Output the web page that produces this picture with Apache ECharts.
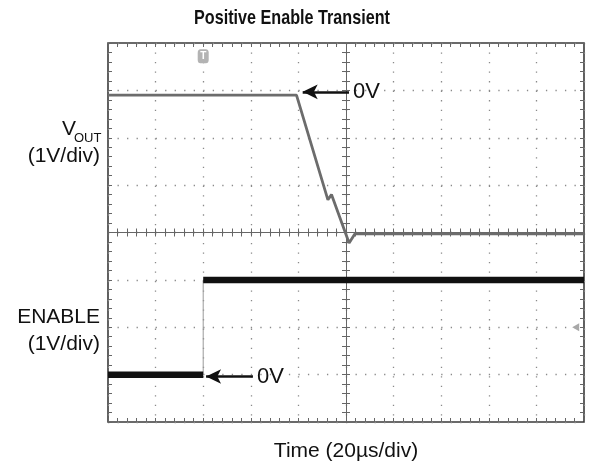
<!DOCTYPE html>
<html>
<head>
<meta charset="utf-8">
<script src="https://cdn.jsdelivr.net/npm/echarts@6/dist/echarts.min.js"></script>
<style>html,body{margin:0;padding:0;background:#fff;}#c{width:596px;height:470px;}</style>
</head>
<body>
<div id="c"></div>
<script>
// Time in microseconds (20 µs/div), amplitude in divisions (1 V/div)
const voutTime = [-100, -20.8, -7.6, -6.1, 1.3, 3.7, 100];
const voutDiv = [2.9, 2.9, 0.69, 0.80, -0.22, -0.03, -0.03];
const enableLowTime = [-100, -60];
const enableLowDiv = [-3, -3];
const enableHighTime = [-60, 100];
const enableHighDiv = [-1, -1];
const enableStepTime = [-60, -60];
const enableStepDiv = [-3, -1];
const titleText = 'Positive Enable Transient';
const xLabel = 'Time (20µs/div)';
const arrowLabel = '0V';

const zip = (a, b) => a.map((v, i) => [v, b[i]]);
const FONT = 'Liberation Sans, Arial, sans-serif';

const chart = echarts.init(document.getElementById('c'));

const dotted = { color: '#8a8a8a', width: 1.3, type: [1.3, 8.22] };
function xAx(opts) {
  return Object.assign({
    type: 'value', min: -100, max: 100, interval: 20,
    axisLabel: { show: false },
    splitLine: { show: false },
    axisLine: { show: false, onZero: false },
    axisTick: { show: true, inside: true, length: 4, lineStyle: { color: '#666', width: 1 } },
    minorTick: { show: true, splitNumber: 5, length: 4, lineStyle: { color: '#666', width: 1 } }
  }, opts);
}
function yAx(opts) {
  return Object.assign({
    type: 'value', min: -4, max: 4, interval: 1,
    axisLabel: { show: false },
    splitLine: { show: false },
    axisLine: { show: false, onZero: false },
    axisTick: { show: true, inside: true, length: 4, lineStyle: { color: '#666', width: 1 } },
    minorTick: { show: true, splitNumber: 5, length: 4, lineStyle: { color: '#666', width: 1 } }
  }, opts);
}

const option = {
  animation: false,
  backgroundColor: '#fff',
  grid: { left: 108, top: 43, right: 12, bottom: 48, show: true, borderColor: '#3a3a3a', borderWidth: 1.6, backgroundColor: 'transparent', containLabel: false },
  xAxis: [
    xAx({ position: 'bottom', splitLine: { show: true, lineStyle: dotted } }),
    xAx({ position: 'top' }),
    xAx({ position: 'bottom', axisLine: { show: true, onZero: true, onZeroAxisIndex: 0, lineStyle: { color: '#666', width: 1 } }, axisTick: { show: true, inside: true, length: 4, lineStyle: { color: '#666' } } }),
    xAx({ position: 'bottom', axisLine: { show: false, onZero: true, onZeroAxisIndex: 0 }, axisTick: { show: true, inside: false, length: 4, lineStyle: { color: '#666' } } })
  ],
  yAxis: [
    yAx({ position: 'left', splitLine: { show: true, lineStyle: dotted } }),
    yAx({ position: 'right' }),
    yAx({ position: 'left', axisLine: { show: true, onZero: true, onZeroAxisIndex: 0, lineStyle: { color: '#666', width: 1 } }, axisTick: { show: true, inside: true, length: 4, lineStyle: { color: '#666' } } }),
    yAx({ position: 'left', axisLine: { show: false, onZero: true, onZeroAxisIndex: 0 }, axisTick: { show: true, inside: false, length: 4, lineStyle: { color: '#666' } } })
  ],
  series: [
    {
      name: 'ENABLE step', type: 'line', xAxisIndex: 0, yAxisIndex: 0,
      data: zip(enableStepTime, enableStepDiv), showSymbol: false, silent: true,
      lineStyle: { color: '#9a9a9a', width: 1 }
    },
    {
      name: 'ENABLE low', type: 'line', xAxisIndex: 0, yAxisIndex: 0,
      data: zip(enableLowTime, enableLowDiv), showSymbol: false, silent: true,
      lineStyle: { color: '#111', width: 6.5 },
      markLine: {
        silent: true, symbol: ['arrow', 'none'], symbolSize: [11, 15],
        lineStyle: { color: '#111', width: 2.6, type: 'solid' },
        label: { show: true, position: 'end', formatter: arrowLabel, color: '#111', fontSize: 22, fontFamily: FONT, distance: 4 },
        data: [[{ coord: [-58.8, -3.04] }, { coord: [-39.1, -3.04] }]]
      }
    },
    {
      name: 'ENABLE high', type: 'line', xAxisIndex: 0, yAxisIndex: 0,
      data: zip(enableHighTime, enableHighDiv), showSymbol: false, silent: true,
      lineStyle: { color: '#111', width: 6.5 },
      markPoint: {
        silent: true,
        data: [{ coord: [96.5, -2], symbol: 'triangle', symbolRotate: 90, symbolSize: [8, 7], itemStyle: { color: '#a8a8a8' }, label: { show: false } }]
      }
    },
    {
      name: 'VOUT', type: 'line', xAxisIndex: 0, yAxisIndex: 0,
      data: zip(voutTime, voutDiv), showSymbol: false, silent: true,
      lineStyle: { color: '#6c6c6c', width: 2.8 },
      markLine: {
        silent: true, symbol: ['arrow', 'none'], symbolSize: [11, 15],
        lineStyle: { color: '#111', width: 2.6, type: 'solid' },
        label: { show: true, position: 'end', formatter: arrowLabel, color: '#111', fontSize: 22, fontFamily: FONT, distance: 4 },
        data: [[{ coord: [-18.2, 2.97] }, { coord: [1.26, 2.97] }]]
      },
      markPoint: {
        silent: true,
        data: [{ coord: [-60, 3.72], symbol: 'roundRect', symbolSize: [11, 14], itemStyle: { color: '#b3b3b3' },
          label: { show: true, formatter: 'T', color: '#fff', fontSize: 10, fontWeight: 'bold', fontFamily: FONT, position: 'inside' } }]
      }
    }
  ],
  graphic: [
    { type: 'text', x: 292, y: 18, scaleX: 0.77, style: { text: titleText, font: 'bold 21px ' + FONT, fill: '#111', textAlign: 'center', textVerticalAlign: 'middle' } },
    { type: 'text', x: 76, y: 129, style: { text: 'V', font: '21px ' + FONT, fill: '#111', textAlign: 'right', textVerticalAlign: 'middle' } },
    { type: 'text', x: 74, y: 138, style: { text: 'OUT', font: '13px ' + FONT, fill: '#111', textAlign: 'left', textVerticalAlign: 'middle' } },
    { type: 'text', x: 100, y: 156, style: { text: '(1V/div)', font: '21px ' + FONT, fill: '#111', textAlign: 'right', textVerticalAlign: 'middle' } },
    { type: 'text', x: 100, y: 317, style: { text: 'ENABLE', font: '21px ' + FONT, fill: '#111', textAlign: 'right', textVerticalAlign: 'middle' } },
    { type: 'text', x: 100, y: 344, style: { text: '(1V/div)', font: '21px ' + FONT, fill: '#111', textAlign: 'right', textVerticalAlign: 'middle' } },
    { type: 'text', x: 346, y: 451, style: { text: xLabel, font: '21px ' + FONT, fill: '#111', textAlign: 'center', textVerticalAlign: 'middle' } }
  ]
};
chart.setOption(option);
</script>
</body>
</html>
